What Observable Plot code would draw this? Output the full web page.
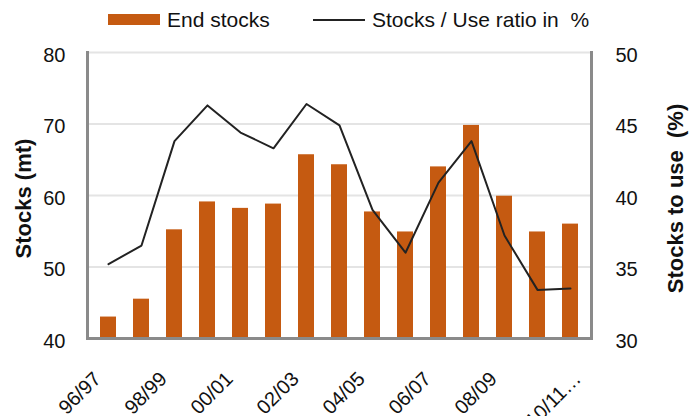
<!DOCTYPE html>
<html>
<head>
<meta charset="utf-8">
<script src="https://cdn.jsdelivr.net/npm/d3@7"></script>
<script src="https://cdn.jsdelivr.net/npm/@observablehq/plot@0.6"></script>
<style>
  html, body { margin: 0; padding: 0; background: #fff; }
  #wrap { width: 699px; font-family: "Liberation Sans", Arial, sans-serif; }
  #legend { position: relative; height: 40px; width: 699px; font-size: 21px; color: #111; }
  #legend .sw { position: absolute; }
  #legend .lb { position: absolute; top: 8px; line-height: 24px; white-space: pre; }
</style>
</head>
<body>
<div id="wrap">
  <div id="legend">
    <div class="sw" style="left:108px;top:14px;width:52px;height:11px;background:#c55a11"></div>
    <div class="lb" style="left:167px">End stocks</div>
    <div class="sw" style="left:313px;top:19px;width:52px;height:2px;background:#222"></div>
    <div class="lb" style="left:372px">Stocks / Use ratio in  %</div>
  </div>
  <div id="chart"></div>
</div>
<script>
const years = ["96/97","97/98","98/99","99/00","00/01","01/02","02/03","03/04","04/05","05/06","06/07","07/08","08/09","09/10","10/11"];
const endStocks = [43.0, 45.5, 55.2, 59.1, 58.2, 58.8, 65.7, 64.3, 57.7, 54.9, 64.0, 69.8, 59.9, 54.9, 56.0];
const stocksUseRatio = [35.2, 36.5, 43.8, 46.3, 44.4, 43.3, 46.4, 44.9, 39.0, 36.0, 40.9, 43.8, 37.2, 33.4, 33.5];
const xTickLabels = ["96/97","98/99","00/01","02/03","04/05","06/07","08/09"];
const lastTickLabel = ["10/11"];
const leftTicks = [40, 50, 60, 70, 80];
const rightTicks = [30, 35, 40, 45, 50];

// map right-axis values (30..50) onto left scale (40..80)
const toLeft = r => 40 + (r - 30) * 2;
const fromLeft = v => 30 + (v - 40) / 2;

const data = years.map((y, i) => ({year: y, stocks: endStocks[i], ratio: toLeft(stocksUseRatio[i])}));

const font = '"Liberation Sans", Arial, sans-serif';

const chart = Plot.plot({
  width: 699,
  height: 376,
  marginTop: 12,
  marginBottom: 78,
  marginLeft: 87,
  marginRight: 108,
  style: {fontFamily: font, fontSize: "20px", color: "#111", background: "white"},
  x: {type: "band", domain: years, paddingInner: 0.53, paddingOuter: 0.265, axis: null},
  y: {domain: [40, 80], axis: null},
  marks: [
    Plot.ruleY([50, 60, 70, 80], {stroke: "#e4e4e4", strokeWidth: 2}),
    Plot.barY(data, {x: "year", y1: 40, y2: "stocks", fill: "#c55a11"}),
    Plot.line(data, {x: "year", y: "ratio", stroke: "#222", strokeWidth: 2}),
    Plot.ruleY([40], {stroke: "#8a8a8a", strokeWidth: 3}),
    Plot.frame({anchor: "left", stroke: "#8a8a8a", strokeWidth: 3}),
    Plot.frame({anchor: "right", stroke: "#8a8a8a", strokeWidth: 3}),
    Plot.axisY({anchor: "left", ticks: leftTicks, tickSize: 0, tickPadding: 22, dy: 3, label: null, fontSize: 20}),
    Plot.axisY({anchor: "right", ticks: rightTicks.map(toLeft), tickFormat: v => String(fromLeft(v)), tickSize: 0, tickPadding: 24, dy: 3, label: null, fontSize: 20}),
    Plot.axisX({ticks: xTickLabels, tickRotate: -45, tickSize: 0, tickPadding: 37, dx: -11, label: null, fontSize: 20}),
    Plot.axisX({ticks: lastTickLabel, tickFormat: d => d + "\u2026", tickRotate: -45, tickSize: 0, tickPadding: 37, dx: 7, label: null, fontSize: 20}),
    Plot.text(["Stocks (mt)"], {frameAnchor: "left", dx: -64, dy: 3, rotate: -90, textAnchor: "middle", lineAnchor: "middle", text: d => d, fontWeight: "bold", fontSize: 22, fill: "#111"}),
    Plot.text(["Stocks to use  (%)"], {frameAnchor: "right", dx: 84, dy: 3, rotate: -90, textAnchor: "middle", lineAnchor: "middle", text: d => d, fontWeight: "bold", fontSize: 22, fill: "#111"})
  ]
});
document.getElementById("chart").appendChild(chart);
</script>
</body>
</html>
